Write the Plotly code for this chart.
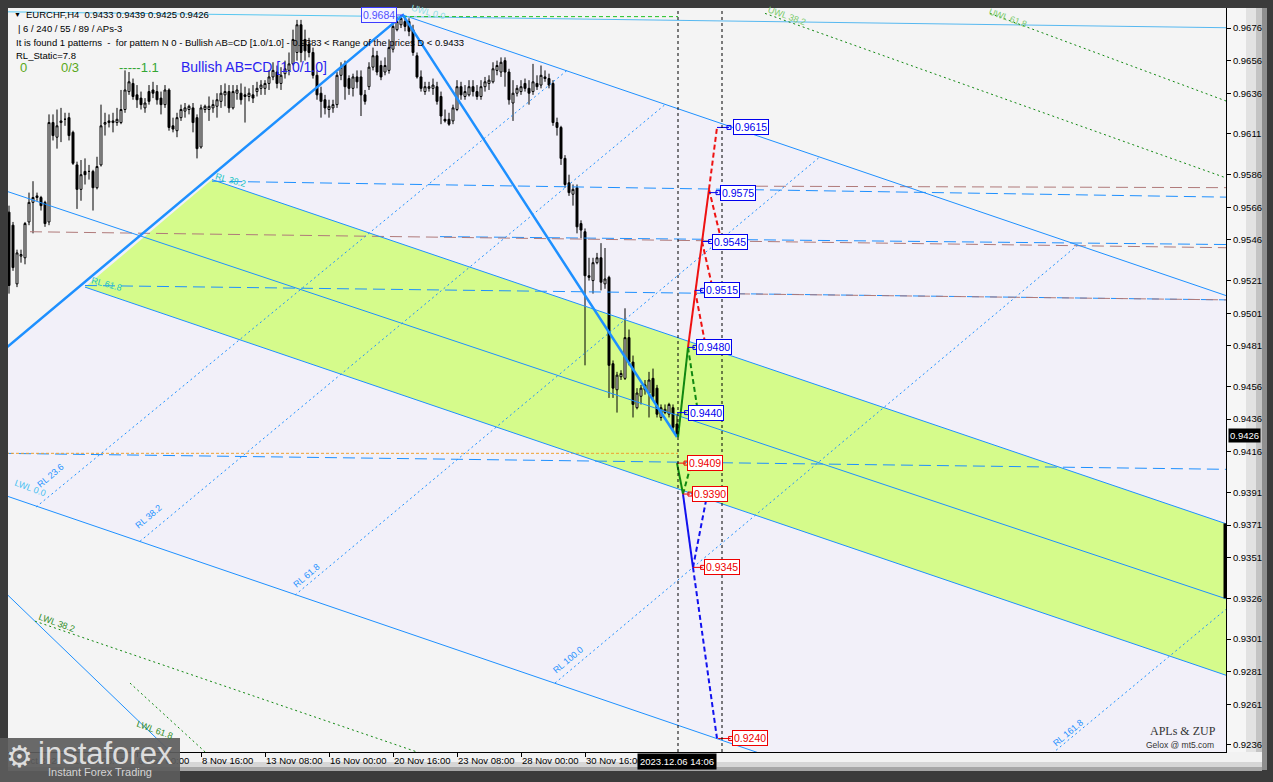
import plotly.graph_objects as go

# ---------------- DATA ----------------
OPEN = [0.9563,0.9555,0.9519,0.9536,0.9535,0.9557,0.9569,0.9572,0.9572,0.9569,
        0.9557,0.9618,0.9609,0.9618,0.9620,0.9621,0.9612,0.9592,0.9577,0.9588,
        0.9588,0.9588,0.9578,0.9592,0.9617,0.9618,0.9618,0.9618,0.9618,0.9626,
        0.9637,0.9642,0.9635,0.9633,0.9627,0.9637,0.9638,0.9637,0.9633,0.9629,
        0.9638,0.9616,0.9613,0.9621,0.9625,0.9626,0.9627,0.9621,0.9603,0.9626,
        0.9626,0.9627,0.9628,0.9631,0.9635,0.9637,0.9627,0.9636,0.9636,0.9635,
        0.9634,0.9635,0.9637,0.9639,0.9639,0.9642,0.9646,0.9649,0.9642,0.9648,
        0.9650,0.9654,0.9661,0.9678,0.9669,0.9666,0.9661,0.9647,0.9636,0.9632,
        0.9626,0.9627,0.9629,0.9647,0.9654,0.9645,0.9639,0.9646,0.9646,0.9635,
        0.9640,0.9652,0.9659,0.9653,0.9649,0.9650,0.9663,0.9675,0.9678,0.9680,
        0.9680,0.9675,0.9659,0.9646,0.9637,0.9639,0.9639,0.9640,0.9634,0.9620,
        0.9620,0.9619,0.9626,0.9640,0.9634,0.9635,0.9640,0.9637,0.9634,0.9640,
        0.9642,0.9643,0.9650,0.9649,0.9656,0.9649,0.9630,0.9636,0.9637,0.9642,
        0.9639,0.9637,0.9642,0.9641,0.9646,0.9645,0.9642,0.9618,0.9615,0.9596,
        0.9581,0.9574,0.9578,0.9556,0.9551,0.9524,0.9521,0.9532,0.9535,0.9519,
        0.9523,0.9470,0.9454,0.9462,0.9461,0.9486,0.9471,0.9443,0.9450,0.9454,
        0.9452,0.9461,0.9455,0.9437,0.9440,0.9439,0.9443,0.9433]
HIGH = [0.9567,0.9557,0.9540,0.9540,0.9557,0.9575,0.9582,0.9575,0.9573,0.9570,
        0.9623,0.9623,0.9626,0.9627,0.9624,0.9624,0.9613,0.9594,0.9595,0.9596,
        0.9592,0.9589,0.9597,0.9629,0.9624,0.9623,0.9624,0.9627,0.9638,0.9650,
        0.9649,0.9645,0.9641,0.9637,0.9633,0.9641,0.9643,0.9641,0.9637,0.9641,
        0.9639,0.9621,0.9624,0.9629,0.9630,0.9629,0.9630,0.9623,0.9629,0.9629,
        0.9634,0.9632,0.9636,0.9641,0.9642,0.9641,0.9641,0.9641,0.9642,0.9640,
        0.9639,0.9641,0.9643,0.9644,0.9644,0.9650,0.9655,0.9653,0.9652,0.9656,
        0.9661,0.9675,0.9681,0.9681,0.9675,0.9670,0.9664,0.9650,0.9640,0.9635,
        0.9632,0.9632,0.9649,0.9655,0.9656,0.9647,0.9648,0.9650,0.9650,0.9638,
        0.9655,0.9664,0.9662,0.9656,0.9658,0.9669,0.9683,0.9683,0.9684,0.9683,
        0.9682,0.9678,0.9661,0.9650,0.9643,0.9643,0.9645,0.9643,0.9637,0.9626,
        0.9624,0.9629,0.9644,0.9643,0.9641,0.9644,0.9644,0.9641,0.9644,0.9646,
        0.9647,0.9655,0.9656,0.9658,0.9658,0.9651,0.9644,0.9641,0.9644,0.9645,
        0.9644,0.9654,0.9647,0.9653,0.9650,0.9648,0.9644,0.9621,0.9616,0.9598,
        0.9586,0.9580,0.9580,0.9558,0.9553,0.9535,0.9535,0.9538,0.9544,0.9541,
        0.9524,0.9472,0.9465,0.9466,0.9504,0.9491,0.9475,0.9455,0.9457,0.9460,
        0.9465,0.9467,0.9457,0.9445,0.9445,0.9446,0.9445,0.9439]
LOW = [0.9513,0.9527,0.9517,0.9532,0.9531,0.9555,0.9550,0.9570,0.9564,0.9554,
       0.9555,0.9607,0.9602,0.9606,0.9616,0.9607,0.9592,0.9565,0.9570,0.9580,
       0.9583,0.9564,0.9577,0.9591,0.9610,0.9615,0.9612,0.9616,0.9617,0.9624,
       0.9635,0.9632,0.9627,0.9626,0.9624,0.9629,0.9633,0.9629,0.9623,0.9627,
       0.9613,0.9612,0.9609,0.9619,0.9621,0.9623,0.9612,0.9596,0.9602,0.9624,
       0.9619,0.9624,0.9621,0.9627,0.9628,0.9624,0.9626,0.9632,0.9629,0.9618,
       0.9631,0.9630,0.9634,0.9635,0.9635,0.9638,0.9644,0.9639,0.9638,0.9645,
       0.9647,0.9653,0.9656,0.9655,0.9656,0.9658,0.9645,0.9632,0.9621,0.9623,
       0.9621,0.9624,0.9627,0.9644,0.9632,0.9635,0.9634,0.9639,0.9622,0.9629,
       0.9638,0.9650,0.9647,0.9644,0.9647,0.9648,0.9661,0.9674,0.9676,0.9674,
       0.9671,0.9659,0.9645,0.9637,0.9635,0.9637,0.9635,0.9629,0.9617,0.9618,
       0.9616,0.9617,0.9625,0.9632,0.9632,0.9634,0.9634,0.9632,0.9632,0.9637,
       0.9638,0.9642,0.9647,0.9646,0.9640,0.9629,0.9619,0.9634,0.9635,0.9637,
       0.9629,0.9635,0.9638,0.9639,0.9643,0.9639,0.9616,0.9610,0.9592,0.9578,
       0.9573,0.9567,0.9550,0.9547,0.9469,0.9521,0.9513,0.9531,0.9515,0.9516,
       0.9449,0.9449,0.9440,0.9460,0.9460,0.9469,0.9437,0.9442,0.9445,0.9451,
       0.9437,0.9448,0.9437,0.9435,0.9439,0.9437,0.9429,0.9425]
CLOSE = [0.9518,0.9529,0.9538,0.9537,0.9556,0.9569,0.9572,0.9573,0.9567,0.9556,
         0.9618,0.9610,0.9616,0.9619,0.9620,0.9610,0.9593,0.9577,0.9586,0.9586,
         0.9588,0.9578,0.9591,0.9616,0.9618,0.9619,0.9619,0.9620,0.9626,0.9638,
         0.9643,0.9634,0.9632,0.9629,0.9630,0.9631,0.9636,0.9632,0.9629,0.9638,
         0.9615,0.9614,0.9621,0.9626,0.9627,0.9628,0.9618,0.9602,0.9627,0.9628,
         0.9628,0.9629,0.9632,0.9636,0.9637,0.9627,0.9637,0.9638,0.9632,0.9634,
         0.9636,0.9633,0.9639,0.9641,0.9642,0.9646,0.9650,0.9642,0.9647,0.9651,
         0.9654,0.9669,0.9678,0.9661,0.9662,0.9661,0.9647,0.9635,0.9631,0.9627,
         0.9628,0.9629,0.9647,0.9652,0.9640,0.9639,0.9646,0.9643,0.9635,0.9631,
         0.9652,0.9659,0.9649,0.9646,0.9653,0.9664,0.9677,0.9680,0.9682,0.9677,
         0.9674,0.9661,0.9646,0.9639,0.9640,0.9640,0.9641,0.9631,0.9622,0.9619,
         0.9617,0.9627,0.9640,0.9635,0.9637,0.9640,0.9637,0.9634,0.9640,0.9643,
         0.9644,0.9651,0.9653,0.9655,0.9649,0.9632,0.9636,0.9639,0.9640,0.9639,
         0.9636,0.9643,0.9640,0.9647,0.9645,0.9641,0.9618,0.9615,0.9596,0.9580,
         0.9575,0.9577,0.9554,0.9552,0.9524,0.9523,0.9532,0.9535,0.9520,0.9522,
         0.9469,0.9455,0.9463,0.9464,0.9486,0.9471,0.9445,0.9452,0.9455,0.9457,
         0.9460,0.9450,0.9439,0.9443,0.9442,0.9445,0.9431,0.9426]
BAR_INDEX = list(range(len(OPEN)))

TICK_BARS = [0, 16, 32, 48, 64, 80, 96, 112, 128, 144]
TICK_LABELS = ["27 Oct 2023", "1 Nov 08:00", "6 Nov 00:00", "8 Nov 16:00", "13 Nov 08:00",
               "16 Nov 00:00", "20 Nov 16:00", "23 Nov 08:00", "28 Nov 00:00", "30 Nov 16:00"]
PRICE_TICKS = [0.9676, 0.9656, 0.9636, 0.9611, 0.9586, 0.9566, 0.9546, 0.9521, 0.9501, 0.9481,
               0.9456, 0.9436, 0.9416, 0.9391, 0.9371, 0.9351, 0.9326, 0.9301, 0.9281, 0.9261, 0.9236]
BID = 0.9426
BAR_OHLC_TEXT = "EURCHF,H4  0.9433 0.9439 0.9425 0.9426"

# pattern legs (bar index, price)
ZIGZAG_X = [-2, 98.5, 167.0]
ZIGZAG_Y = [0.9477, 0.9684, 0.9425]

# channel lines: ((bar0, price0), (bar1, price1))
UPPER_LINE = ((98.5, 0.9684), (310, 0.9507))
MID_LINE = ((-2, 0.9577), (310, 0.9321))
BAND_TOP = ((50.75, 0.9583), (310, 0.9367))
BAND_BOTTOM = ((19, 0.9517), (310, 0.9274))
LOWER_LINE = ((-2, 0.9390), (190, 0.9229))
STEEP_LINE = ((-2, 0.9332), (42, 0.9228))
TOP_LINE_LEFT = ((-2, 0.9686), (98.5, 0.9683))
TOP_LINE_RIGHT = ((98.5, 0.9683), (310, 0.9676))
TOP_GREEN_DASH = ((98.5, 0.9683), (167.25, 0.9683))
RIGHT_EDGE_MARK = [0.9372, 0.9326]

RL_LINES = [((6.75, 0.9382), (139.5, 0.9650)), ((32.75, 0.9361), (164, 0.9629)),
            ((71.5, 0.9328), (202.75, 0.9597)), ((136.5, 0.9274), (267.25, 0.9543)),
            ((256, 0.9221), (310, 0.9331))]
WL_GREEN_LINES = [((6.5, 0.9312), (105.25, 0.9229)), ((30.25, 0.9274), (50.25, 0.9229)),
                  ((189, 0.9685), (310, 0.9579)), ((245.25, 0.9685), (310, 0.9626))]
BLUE_LEVELS = [((50.75, 0.9582), (310, 0.9572)), ((107.75, 0.9548), (310, 0.9543)),
               ((19, 0.9518), (310, 0.9509)), ((-2, 0.9415), (310, 0.9405))]
BROWN_LEVELS = [((177.75, 0.9579), (310, 0.9578)), ((5.25, 0.9551), (310, 0.9541)),
                ((177.75, 0.9513), (310, 0.9509))]
ORANGE_LEVEL = ((-2, 0.9415), (167.25, 0.9415))

# AB=CD projections
GREEN_UP_SOLID = ([167.25, 169.75], [0.9425, 0.9480])
GREEN_UP_DASH = ([169.75, 172.25], [0.9480, 0.9440])
RED_SOLID = ([169.75, 175.0], [0.9480, 0.9577])
RED_DASH_TOP = ([175.0, 177.0], [0.9577, 0.9615])
RED_BRANCHES = [([175.0, 177.75], [0.9577, 0.9549]), ([173.25, 175.75], [0.9545, 0.9518]),
                ([171.5, 174.0], [0.9515, 0.9483])]
GREEN_DN_SOLID = ([167.0, 168.5], [0.9409, 0.9390])
GREEN_DN_DASH = ([168.5, 170.5], [0.9390, 0.9408])
BLUE_DN_SOLID = ([168.5, 171.0], [0.9390, 0.9345])
BLUE_DN_DASHES = [([171.0, 174.25], [0.9345, 0.9386]), ([171.0, 177.0], [0.9345, 0.9240])]

LEVELS_UP = [0.9615, 0.9575, 0.9545, 0.9515, 0.9480, 0.9440]
LEVELS_UP_ANCHOR = [(177.0, 180.0, 181.0), (175.0, 177.25, 177.75), (173.4, 175.4, 175.75),
                    (171.5, 173.4, 173.75), (169.75, 171.5, 171.75), (167.0, 169.4, 169.7)]
LEVELS_DN = [0.9409, 0.9390, 0.9345, 0.9240]
LEVELS_DN_ANCHOR = [(167.0, 169.25, 169.5), (168.4, 170.25, 170.7), (171.0, 173.4, 173.75),
                    (177.3, 180.4, 180.75)]
PEAK_LABEL = 0.9684
VLINES = [167.25, 178.25]

# ---------------- FIGURE ----------------
W, H = 1273, 782
PL, PR, PT, PB = 8, 1226, 8, 752
X_RANGE = [-0.25, 304.25]
Y_RANGE = [0.92317, 0.96883]


def px(x):
    return (x - PL) / (PR - PL)


def py(y):
    return (PB - y) / (PB - PT)


BLUE = "#1E90FF"
fig = go.Figure()
shapes = []


def seg(p0, p1, color, width=1, dash="solid"):
    fig.add_trace(go.Scatter(x=[p0[0], p1[0]], y=[p0[1], p1[1]], mode="lines",
                             line=dict(color=color, width=width, dash=dash),
                             hoverinfo="skip", showlegend=False))


def path(xs, ys, color, width=1, dash="solid"):
    fig.add_trace(go.Scatter(x=xs, y=ys, mode="lines",
                             line=dict(color=color, width=width, dash=dash),
                             hoverinfo="skip", showlegend=False))


def poly_shape(xs, ys, color):
    d = "M " + " L ".join(f"{x},{y}" for x, y in zip(xs, ys)) + " Z"
    shapes.append(dict(type="path", xref="x", yref="y", path=d, fillcolor=color,
                       line=dict(width=0), layer="below"))


# lavender pitchfork zone (below candles)
lav_x = [ZIGZAG_X[0], ZIGZAG_X[1], UPPER_LINE[1][0], 310, 225, LOWER_LINE[0][0]]
lav_y = [ZIGZAG_Y[0], ZIGZAG_Y[1], UPPER_LINE[1][1], 0.9200, 0.9200, LOWER_LINE[0][1]]
poly_shape(lav_x, lav_y, "#f2f0f9")
# green band (below candles)
band_x = [BAND_TOP[0][0], BAND_TOP[1][0], BAND_BOTTOM[1][0], BAND_BOTTOM[0][0]]
band_y = [BAND_TOP[0][1], BAND_TOP[1][1], BAND_BOTTOM[1][1], BAND_BOTTOM[0][1]]
poly_shape(band_x, band_y, "#d5fb8b")

# level lines
for a, b in BLUE_LEVELS:
    seg(a, b, BLUE, 1, "12px,6px")
for a, b in BROWN_LEVELS:
    seg(a, b, "#b07a7a", 1, "12px,6px")
seg(ORANGE_LEVEL[0], ORANGE_LEVEL[1], "#f0a030", 1, "3px,2px")

# candles
fig.add_trace(go.Candlestick(
    x=BAR_INDEX, open=OPEN, high=HIGH, low=LOW, close=CLOSE,
    increasing=dict(line=dict(color="black", width=1), fillcolor="white"),
    decreasing=dict(line=dict(color="black", width=1), fillcolor="black"),
    whiskerwidth=0, hoverinfo="skip", showlegend=False))

# channel lines
for ln in (UPPER_LINE, MID_LINE, BAND_TOP, BAND_BOTTOM, LOWER_LINE, STEEP_LINE):
    seg(ln[0], ln[1], BLUE, 1)
seg(TOP_LINE_LEFT[0], TOP_LINE_LEFT[1], "#56c6f0", 1)
seg(TOP_LINE_RIGHT[0], TOP_LINE_RIGHT[1], "#56b8f0", 1)
seg(TOP_GREEN_DASH[0], TOP_GREEN_DASH[1], "#20c020", 1, "4px,3px")
for a, b in RL_LINES:
    seg(a, b, BLUE, 1, "2px,3px")
for a, b in WL_GREEN_LINES:
    seg(a, b, "#118811", 1, "2px,3px")

# zigzag
path(ZIGZAG_X, ZIGZAG_Y, BLUE, 2.5)

# projections
path(*GREEN_UP_SOLID, "#118811", 2)
path(*GREEN_UP_DASH, "#118811", 2, "5px,3px")
path(*RED_SOLID, "#ee1111", 2)
path(*RED_DASH_TOP, "#ee1111", 2, "5px,3px")
for bx, by in RED_BRANCHES:
    path(bx, by, "#ee1111", 2, "5px,3px")
path(*GREEN_DN_SOLID, "#118811", 2)
path(*GREEN_DN_DASH, "#118811", 2, "5px,3px")
path(*BLUE_DN_SOLID, "#1111ee", 2)
for bx, by in BLUE_DN_DASHES:
    path(bx, by, "#1111ee", 2, "5px,3px")

# right edge mark
path([304.0, 304.0], RIGHT_EDGE_MARK, "black", 3)

annotations = []
# level labels
for levels, anchors, col in ((LEVELS_UP, LEVELS_UP_ANCHOR, "#0000ee"), (LEVELS_DN, LEVELS_DN_ANCHOR, "#ee0000")):
    for lv, (x0, xs, xb) in zip(levels, anchors):
        path([x0, xs], [lv, lv], col, 1)
        fig.add_trace(go.Scatter(x=[xs], y=[lv], mode="markers",
                                 marker=dict(symbol="square-open", size=4, color=col, line=dict(width=1, color=col)),
                                 hoverinfo="skip", showlegend=False))
        annotations.append(dict(x=xb, y=lv, xref="x", yref="y", text=f"{lv:.4f}", showarrow=False,
                                xanchor="left", yanchor="middle", bgcolor="white", bordercolor=col,
                                borderwidth=1, borderpad=1,
                                font=dict(family="Liberation Sans", size=10.5, color=col)))
# peak label
path([97.0, 98.5], [PEAK_LABEL, PEAK_LABEL], "#4444ff", 1)
annotations.append(dict(x=97.0, y=PEAK_LABEL, xref="x", yref="y", text=f"{PEAK_LABEL:.4f}", showarrow=False,
                        xanchor="right", yanchor="middle", bgcolor="#f4f4ff", bordercolor="#3c3cff",
                        borderwidth=1, borderpad=1, font=dict(family="Liberation Sans", size=10.5, color="#5050ff")))


def txt(x, y, s, size=9, color="black", family="Liberation Sans", angle=0, anchor="left", **kw):
    d = dict(x=px(x), y=py(y), xref="paper", yref="paper", text=s, showarrow=False,
             xanchor=anchor, yanchor="middle", textangle=angle,
             font=dict(family=family, size=size, color=color))
    d.update(kw)
    annotations.append(d)


# header texts
txt(12, 15, "▼", 7)
txt(24, 15, BAR_OHLC_TEXT, 9.5)
txt(16, 29, "| 6 / 240 / 55 / 89 / APs-3", 9.5)
txt(14, 43, "It is found 1 patterns  -  for pattern N 0 - Bullish AB=CD [1.0/1.0] - 0.9383 < Range of the prices D < 0.9433", 9.5)
txt(14, 55, "RL_Static=7.8", 9.5)
txt(18, 67, "0", 13, "#5aa820")
txt(59, 67, "0/3", 13, "#5aa820")
txt(117, 67, "-----1.1", 13, "#33a633")
txt(179, 67, "Bullish AB=CD [1.0/1.0]", 14, "#2a1ef0")

# rotated line labels
txt(30, 488, "LWL 0.0", 9, "#45bff0", angle=20, anchor="center")
txt(50, 476, "RL 23.6", 9, BLUE, angle=-40, anchor="center")
txt(148, 517, "RL 38.2", 9, BLUE, angle=-40, anchor="center")
txt(306, 576, "RL 61.8", 9, BLUE, angle=-40, anchor="center")
txt(568, 660, "RL 100.0", 9, BLUE, angle=-40, anchor="center")
txt(1068, 733, "RL 161.8", 9, BLUE, angle=-40, anchor="center")
txt(230, 180, "RL 38.2", 9, "#1cc4c4", angle=15, anchor="center")
txt(106, 284, "RL 61.8", 9, "#1cc4c4", angle=15, anchor="center")
txt(57, 623, "LWL 38.2", 9, "#2e8b1e", angle=20, anchor="center")
txt(155, 730, "LWL 61.8", 9, "#2e8b1e", angle=20, anchor="center")
txt(787, 16, "UWL 38.2", 9, "#7acb6a", angle=20, anchor="center")
txt(1008, 18, "UWL 61.8", 9, "#7acb6a", angle=20, anchor="center")
txt(428, 12, "UWL 0.0", 9, "#8fe0e8", angle=15, anchor="center")

# signature
txt(1148, 731, "APLs &amp; ZUP", 12, "#333333", family="Liberation Serif")
txt(1144, 745, "Gelox @ mt5.com", 8.5, "#333333")

# current price & date label
annotations.append(dict(x=px(1228), y=BID, xref="paper", yref="y", text=f"{BID:.4f}", showarrow=False,
                        xanchor="left", yanchor="middle", bgcolor="black", borderpad=1,
                        font=dict(family="Liberation Sans", size=9.5, color="white")))
annotations.append(dict(x=VLINES[0] - 0.25, y=py(761), xref="x", yref="paper", text="2023.12.06 14:06",
                        showarrow=False, xanchor="center", yanchor="middle", bgcolor="black", borderpad=2,
                        font=dict(family="Liberation Sans", size=9.5, color="white")))

# instaforex logo
txt(4, 756, "⚙", 30, "rgba(255,255,255,0.8)", family="DejaVu Sans")
txt(36, 753, "instaforex", 31, "rgba(255,255,255,0.8)")
txt(100, 772, "Instant Forex Trading", 11, "rgba(235,235,235,0.85)", anchor="center")

# axis areas (outside plot)
for x0, x1, c in ((1227, 1246, "#f6f6f6"), (1246, 1256, "#e2e2e2"), (1256, 1262, "#c4c4c4"), (1262, 1267, "#8e8e8e")):
    shapes.append(dict(type="rect", xref="paper", yref="paper", x0=px(x0), x1=px(x1), y0=py(770), y1=py(8),
                       fillcolor=c, line=dict(width=0), layer="below"))
for y0, y1, c in ((752, 762, "#f2f2f2"), (762, 767, "#d6d6d6"), (767, 771, "#a6a6a6")):
    shapes.append(dict(type="rect", xref="paper", yref="paper", x0=px(8), x1=px(1262), y0=py(y1), y1=py(y0),
                       fillcolor=c, line=dict(width=0), layer="below"))
# bid line
shapes.append(dict(type="line", xref="paper", yref="y", x0=0, x1=1, y0=BID, y1=BID,
                   line=dict(color="#b4b4b4", width=1), layer="below"))
# vertical dotted lines
for v in VLINES:
    shapes.append(dict(type="line", xref="x", yref="paper", x0=v, x1=v, y0=0, y1=1,
                       line=dict(color="black", width=1, dash="3px,3px"), layer="above"))
# logo background
shapes.append(dict(type="rect", xref="paper", yref="paper", x0=px(0), x1=px(180), y0=py(782), y1=py(738),
                   fillcolor="rgba(92,92,92,0.92)", line=dict(width=0), layer="above"))

fig.update_layout(
    width=W, height=H,
    margin=dict(l=PL, r=W - PR, t=PT, b=H - PB, pad=0),
    paper_bgcolor="#3b3b3b", plot_bgcolor="#f4f4f4",
    showlegend=False, dragmode=False, hovermode=False,
    font=dict(family="Liberation Sans", color="black"),
    shapes=shapes, annotations=annotations,
    xaxis=dict(range=X_RANGE, tickmode="array", tickvals=TICK_BARS, ticktext=TICK_LABELS,
               ticks="outside", ticklen=4, tickcolor="black", ticklabelposition="outside right",
               tickangle=0,
               tickfont=dict(family="Liberation Sans", size=9.5, color="black"),
               showgrid=False, zeroline=False, showline=True, linecolor="black", linewidth=1,
               rangeslider=dict(visible=False), fixedrange=True),
    yaxis=dict(range=Y_RANGE, side="right", tickmode="array", tickvals=PRICE_TICKS,
               ticktext=[f"{v:.4f}" for v in PRICE_TICKS],
               ticks="outside", ticklen=4, tickcolor="black",
               tickfont=dict(family="Liberation Sans", size=9.5, color="black"),
               showgrid=False, zeroline=False, showline=True, linecolor="black", linewidth=1,
               fixedrange=True),
)

fig.write_html("out.html", include_plotlyjs=True, full_html=True,
               config={"displayModeBar": False, "staticPlot": True},
               post_script="document.body.style.margin='0';document.body.style.overflow='hidden';")
